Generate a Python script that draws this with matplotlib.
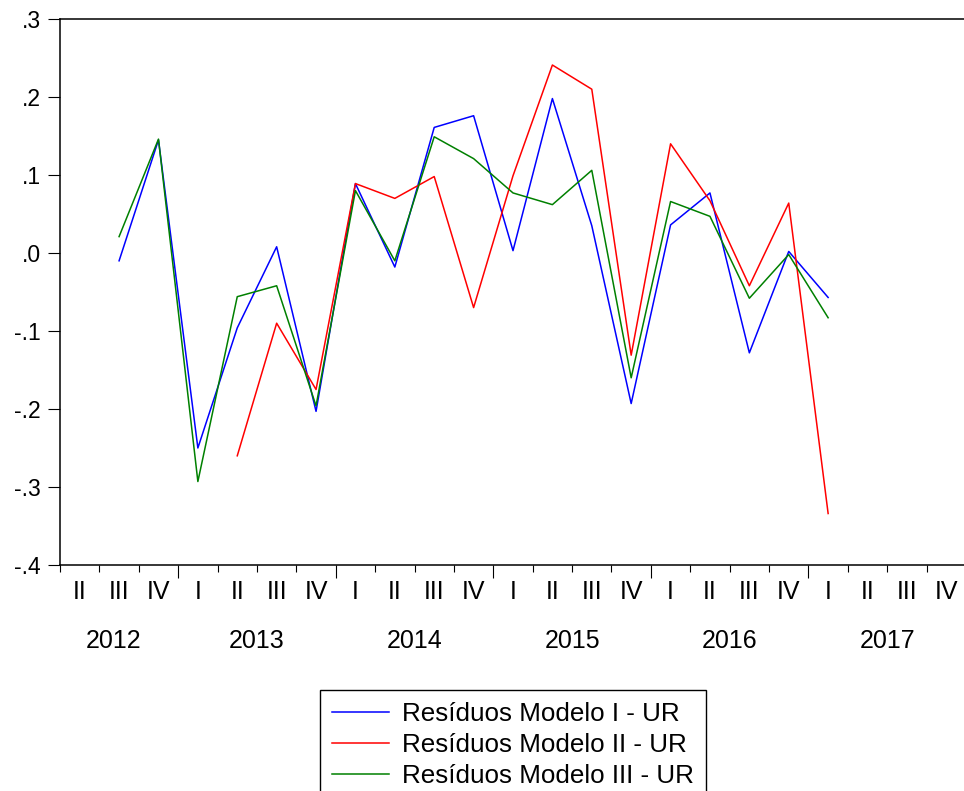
import matplotlib
matplotlib.use("Agg")
import matplotlib.pyplot as plt
import matplotlib.transforms as mtransforms
import numpy as np

plt.rcParams['font.family'] = ['Liberation Sans', 'DejaVu Sans']

# quarters 2012 II .. 2017 IV
quarters = ["II", "III", "IV"] + ["I", "II", "III", "IV"] * 5
years = ["2012", "2013", "2014", "2015", "2016", "2017"]
year_first_idx = [0, 3, 7, 11, 15, 19]
year_label_pos = [0.85, 4.5, 8.5, 12.5, 16.5, 20.5]

# residuals (NaN where missing)
nan = np.nan
res_m1 = [nan, -0.010, 0.145, -0.250, -0.096, 0.008, -0.203, 0.089, -0.018, 0.161,
          0.176, 0.003, 0.198, 0.035, -0.193, 0.036, 0.077, -0.128, 0.002, -0.057,
          nan, nan, nan]
res_m2 = [nan, nan, nan, nan, -0.260, -0.090, -0.175, 0.089, 0.070, 0.098,
          -0.070, 0.099, 0.241, 0.210, -0.131, 0.140, 0.067, -0.042, 0.064, -0.334,
          nan, nan, nan]
res_m3 = [nan, 0.021, 0.146, -0.293, -0.056, -0.042, -0.196, 0.080, -0.010, 0.149,
          0.121, 0.077, 0.062, 0.106, -0.160, 0.066, 0.047, -0.058, -0.002, -0.083,
          nan, nan, nan]

x = np.arange(len(quarters))

fig = plt.figure(figsize=(9.64, 7.91), dpi=100)
ax = fig.add_axes([60/964, 1 - 565/791, (966 - 60)/964, (565 - 19)/791])

ax.plot(x, res_m1, color="#0000ff", lw=1.1, label="Resíduos Modelo I - UR")
ax.plot(x, res_m2, color="#ff0000", lw=1.1, label="Resíduos Modelo II - UR")
ax.plot(x, res_m3, color="#008000", lw=1.1, label="Resíduos Modelo III - UR")

ax.set_xlim(-0.5, len(quarters) - 0.5)
ax.set_ylim(-0.4, 0.3)

def ylab(v):
    s = "%.1f" % v
    if s in ("0.0", "-0.0"):
        return ".0"
    return s.replace("0.", ".")

yt = np.arange(-0.4, 0.31, 0.1)
ax.set_yticks(yt)
ax.set_yticklabels([ylab(v) for v in yt], fontsize=16.5)
ax.tick_params(axis='y', direction='out', length=8.6, width=0.8, pad=5)

# quarter boundary ticks, longer at year boundaries
bounds = np.arange(len(quarters) + 1) - 0.5
year_b = [i - 0.5 for i in year_first_idx[1:]]
minor_b = [b for b in bounds if b not in year_b]
ax.set_xticks(year_b)
ax.set_xticks(minor_b, minor=True)
ax.tick_params(axis='x', which='major', direction='out', length=9.5, width=0.8, labelbottom=False)
ax.tick_params(axis='x', which='minor', direction='out', length=5, width=0.8)

trans = mtransforms.blended_transform_factory(ax.transData, ax.transAxes)
for i, q in enumerate(quarters):
    ax.text(i, -0.0495, q, transform=trans, ha='center', va='center', fontsize=18)
for yp, yr in zip(year_label_pos, years):
    ax.text(yp, -0.139, yr, transform=trans, ha='center', va='center', fontsize=18)

for s in ax.spines.values():
    s.set_linewidth(1.1)

fig.legend(loc='upper center', bbox_to_anchor=(513/964, 1 - 690/791), fontsize=18.7,
           frameon=True, fancybox=False, edgecolor='black', framealpha=1,
           handlelength=2.2, labelspacing=0.27, borderpad=0.45, handletextpad=0.5,
           borderaxespad=0)

fig.savefig("out.png", dpi=100)
